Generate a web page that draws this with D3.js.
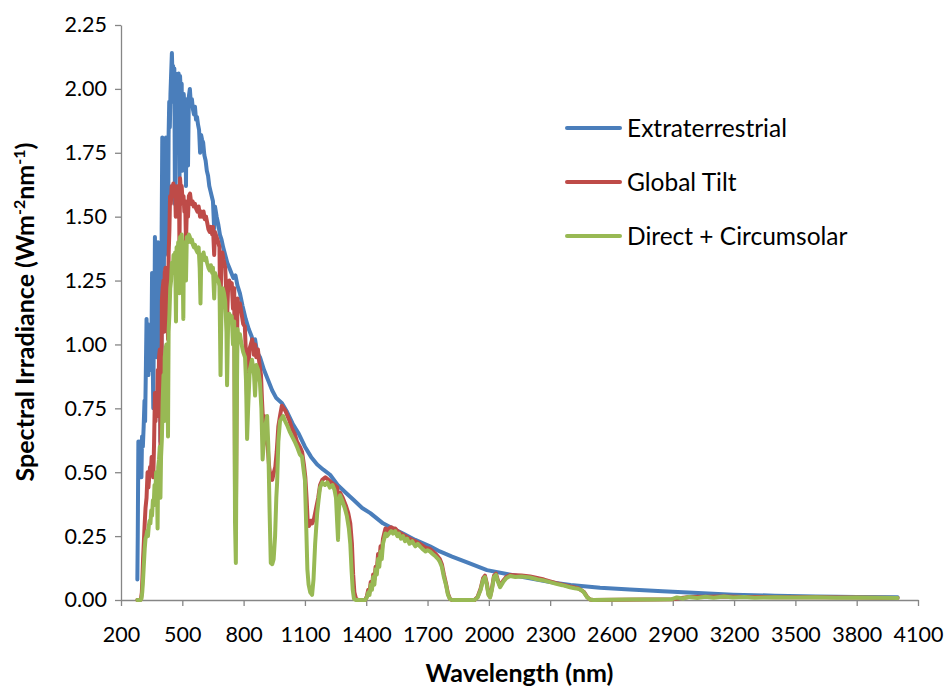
<!DOCTYPE html>
<html>
<head>
<meta charset="utf-8">
<script src="https://cdn.jsdelivr.net/npm/d3@7"></script>
<style>
  body { margin: 0; background: #fff; }
  svg text { font-family: Lato, "Open Sans", sans-serif; fill: #000; }
</style>
</head>
<body>
<svg id="chart" width="950" height="688"></svg>
<script>
// tick labels
const xTicks = [200, 500, 800, 1100, 1400, 1700, 2000, 2300, 2600, 2900, 3200, 3500, 3800, 4100];
const yTicks = [0, 0.25, 0.5, 0.75, 1, 1.25, 1.5, 1.75, 2, 2.25];

const seriesNames = ["Extraterrestrial", "Global Tilt", "Direct + Circumsolar"];

// [wavelength nm, W m-2 nm-1]
const extraterrestrial = [
  [280,0.08],[282,0.25],[285,0.62],[288,0.50],[292,0.62],[296,0.58],[300,0.48],[303,0.64],[307,0.60],[311,0.68],
  [315,0.78],[318,0.70],[322,0.92],[325,1.10],[328,0.95],[331,1.08],[334,0.88],[338,1.00],[341,0.92],[345,1.02],
  [348,0.90],[352,1.28],[355,0.96],[358,0.75],[361,1.08],[364,1.15],[366,1.42],[369,1.05],[372,1.20],[375,0.95],
  [378,1.25],[381,1.40],[384,1.02],[388,1.18],[391,1.05],[393,0.62],[395,1.00],[397,0.70],[399,1.45],[402,1.81],
  [405,1.70],[408,1.78],[410,1.30],[413,1.80],[416,1.72],[420,1.81],[424,1.68],[427,1.75],[430,1.35],[433,1.82],
  [436,1.95],[439,1.85],[442,1.98],[445,2.05],[449,2.14],[452,2.05],[455,2.09],[458,1.95],[461,2.08],[464,1.55],
  [467,2.06],[470,1.98],[474,2.04],[478,1.92],[482,2.06],[486,1.60],[489,2.05],[493,1.98],[497,2.02],[500,1.68],
  [503,1.96],[507,1.98],[511,1.92],[515,1.95],[518,1.62],[521,1.92],[525,1.96],[528,1.70],[532,1.97],[537,2.00],
  [542,1.94],[547,1.96],[552,1.92],[557,1.90],[562,1.93],[567,1.88],[572,1.89],[577,1.86],[582,1.84],[587,1.75],
  [592,1.82],[597,1.80],[602,1.79],[608,1.74],[614,1.72],[620,1.68],[626,1.66],[632,1.62],[638,1.60],[644,1.58],
  [650,1.56],[656,1.45],[660,1.54],[668,1.50],[676,1.47],[684,1.43],[692,1.41],[700,1.38],[710,1.35],[720,1.32],
  [730,1.30],[740,1.28],[750,1.26],[760,1.27],[770,1.23],[782,1.20],[795,1.15],[810,1.10],[825,1.06],[840,1.03],
  [850,0.98],[856,1.02],[866,0.97],[880,0.95],[900,0.90],[920,0.86],[940,0.82],[960,0.79],[988,0.77],[1010,0.74],
  [1040,0.69],[1070,0.65],[1100,0.60],[1130,0.56],[1160,0.53],[1190,0.51],[1223,0.49],[1260,0.45],[1300,0.42],
  [1340,0.39],[1380,0.36],[1420,0.34],[1482,0.30],[1530,0.28],[1580,0.26],[1640,0.235],[1712,0.21],[1760,0.19],
  [1820,0.17],[1900,0.145],[1991,0.117],[2100,0.10],[2200,0.085],[2300,0.07],[2400,0.059],[2544,0.048],[2690,0.041],
  [2850,0.034],[3000,0.028],[3195,0.021],[3400,0.017],[3600,0.014],[3800,0.012],[4000,0.011]
];

const globalTilt = [
  [280,0],[295,0],[298,0.005],[302,0.03],[305,0.09],[308,0.16],[312,0.23],[316,0.30],[320,0.36],[325,0.40],
  [330,0.50],[334,0.44],[338,0.48],[342,0.52],[346,0.50],[350,0.56],[354,0.53],[358,0.48],[362,0.62],[366,0.81],
  [369,0.70],[372,0.78],[376,0.72],[380,0.90],[383,0.75],[386,0.95],[390,0.98],[393,0.60],[396,0.85],[398,0.70],
  [400,1.17],[404,1.22],[408,1.25],[411,1.05],[414,1.28],[418,1.30],[422,1.26],[426,1.30],[430,1.02],[433,1.35],
  [437,1.45],[440,1.58],[444,1.55],[448,1.62],[452,1.60],[456,1.63],[460,1.58],[464,1.62],[468,1.50],[472,1.60],
  [476,1.55],[480,1.62],[484,1.60],[486,1.38],[489,1.65],[493,1.60],[497,1.62],[502,1.55],[506,1.58],[510,1.52],
  [514,1.56],[518,1.40],[522,1.52],[528,1.50],[532,1.58],[538,1.59],[544,1.55],[550,1.56],[556,1.54],[562,1.55],
  [568,1.53],[574,1.52],[580,1.54],[587,1.50],[592,1.52],[598,1.50],[604,1.52],[610,1.49],[616,1.50],[621,1.48],
  [628,1.45],[634,1.44],[640,1.46],[646,1.43],[650,1.46],[656,1.35],[660,1.44],[668,1.42],[676,1.40],[682,1.38],
  [686,1.05],[690,1.30],[696,1.36],[702,1.33],[710,1.30],[716,1.18],[719,1.10],[724,1.22],[730,1.25],[736,1.22],
  [742,1.24],[748,1.14],[754,1.22],[758,0.40],[762,0.30],[766,0.80],[770,1.18],[776,1.14],[782,1.16],[790,1.12],
  [798,1.08],[806,1.07],[812,0.95],[817,0.78],[822,0.85],[828,0.98],[835,1.00],[842,1.02],[850,0.96],[856,1.00],
  [862,0.95],[870,0.98],[878,0.92],[885,0.88],[890,0.78],[895,0.70],[900,0.72],[906,0.68],[912,0.62],[918,0.60],
  [925,0.52],[932,0.48],[940,0.47],[948,0.50],[955,0.52],[962,0.58],[970,0.68],[978,0.72],[987,0.76],[995,0.75],
  [1005,0.74],[1015,0.72],[1025,0.70],[1037,0.67],[1050,0.65],[1061,0.62],[1075,0.60],[1086,0.58],[1095,0.53],
  [1102,0.48],[1108,0.40],[1114,0.30],[1120,0.29],[1128,0.31],[1136,0.30],[1145,0.32],[1155,0.36],[1165,0.40],
  [1174,0.45],[1185,0.47],[1200,0.48],[1215,0.47],[1230,0.46],[1245,0.45],[1258,0.44],[1265,0.36],[1272,0.42],
  [1285,0.40],[1300,0.37],[1312,0.34],[1322,0.30],[1330,0.22],[1336,0.10],[1342,0.03],[1350,0.005],[1360,0],
  [1395,0],[1403,0.015],[1410,0.04],[1416,0.03],[1422,0.07],[1428,0.05],[1434,0.10],[1440,0.08],[1446,0.13],
  [1452,0.12],[1458,0.18],[1464,0.15],[1470,0.21],[1476,0.19],[1482,0.24],[1488,0.26],[1494,0.28],[1502,0.27],
  [1512,0.28],[1522,0.285],[1531,0.28],[1542,0.28],[1552,0.27],[1570,0.26],[1590,0.25],[1612,0.24],[1640,0.23],
  [1663,0.22],[1690,0.205],[1712,0.20],[1740,0.18],[1760,0.16],[1770,0.14],[1780,0.10],[1790,0.065],[1800,0.025],
  [1810,0.004],[1820,0],[1930,0],[1945,0.012],[1960,0.045],[1972,0.085],[1981,0.095],[1990,0.065],[1998,0.025],
  [2006,0.012],[2015,0.045],[2025,0.095],[2035,0.103],[2045,0.075],[2055,0.055],[2070,0.075],[2085,0.09],
  [2104,0.098],[2160,0.096],[2202,0.092],[2270,0.08],[2330,0.066],[2397,0.053],[2437,0.046],[2465,0.032],
  [2481,0.012],[2495,0.002],[2510,0],[2896,0.003],[2980,0.012],[3060,0.013],[3150,0.014],[3250,0.012],
  [3400,0.011],[3600,0.011],[3800,0.010],[4000,0.008]
];

const directCircumsolar = [
  [280,0],[296,0],[300,0.005],[304,0.03],[308,0.08],[312,0.14],[316,0.20],[320,0.24],[324,0.25],[328,0.27],
  [332,0.25],[336,0.29],[340,0.31],[344,0.30],[348,0.35],[352,0.33],[356,0.39],[360,0.37],[364,0.45],[368,0.42],
  [372,0.50],[376,0.47],[379,0.28],[382,0.52],[386,0.55],[390,0.60],[393,0.40],[396,0.56],[400,0.63],[404,0.78],
  [408,0.88],[411,0.70],[414,0.95],[418,0.98],[422,1.00],[426,0.98],[430,0.64],[433,1.05],[437,1.12],[441,1.22],
  [445,1.25],[449,1.32],[453,1.28],[457,1.35],[461,1.30],[465,1.36],[469,1.09],[472,1.38],[476,1.34],[480,1.40],
  [484,1.38],[486,1.20],[489,1.42],[493,1.40],[497,1.43],[501,1.36],[505,1.10],[508,1.40],[512,1.38],[516,1.40],
  [518,1.25],[522,1.42],[527,1.40],[532,1.43],[537,1.42],[542,1.40],[547,1.41],[552,1.39],[557,1.38],[562,1.39],
  [568,1.37],[574,1.36],[580,1.38],[585,1.30],[589,1.16],[593,1.35],[598,1.34],[604,1.36],[610,1.33],[616,1.34],
  [621,1.32],[628,1.30],[634,1.29],[640,1.31],[646,1.28],[650,1.30],[656,1.18],[660,1.28],[668,1.26],[676,1.25],
  [682,1.23],[687,0.88],[692,1.15],[698,1.22],[704,1.20],[710,1.17],[716,1.05],[719,0.84],[724,1.08],[730,1.12],
  [736,1.10],[742,1.11],[748,1.00],[754,1.09],[758,0.30],[762,0.145],[766,0.70],[770,1.06],[776,1.02],[782,1.04],
  [790,1.00],[798,0.97],[807,0.95],[812,0.85],[817,0.63],[822,0.75],[830,0.90],[841,0.94],[851,0.88],[856,0.80],
  [862,0.92],[871,0.90],[880,0.85],[887,0.75],[893,0.55],[899,0.62],[906,0.68],[915,0.72],[921,0.60],[927,0.35],
  [933,0.145],[940,0.14],[947,0.16],[954,0.25],[960,0.40],[964,0.46],[970,0.62],[978,0.70],[985,0.71],[993,0.72],
  [1003,0.70],[1015,0.68],[1025,0.66],[1037,0.64],[1050,0.62],[1061,0.60],[1075,0.57],[1086,0.56],[1095,0.50],
  [1100,0.47],[1106,0.30],[1112,0.12],[1118,0.06],[1126,0.03],[1135,0.02],[1142,0.08],[1150,0.22],[1160,0.34],
  [1168,0.40],[1174,0.44],[1185,0.46],[1198,0.45],[1210,0.46],[1222,0.44],[1235,0.45],[1245,0.43],[1252,0.40],
  [1258,0.30],[1262,0.235],[1266,0.35],[1272,0.41],[1282,0.39],[1295,0.36],[1305,0.33],[1315,0.28],[1322,0.22],
  [1328,0.12],[1334,0.04],[1340,0.005],[1350,0],[1395,0],[1403,0.01],[1410,0.03],[1416,0.02],[1422,0.06],
  [1428,0.04],[1434,0.09],[1440,0.06],[1446,0.12],[1452,0.10],[1458,0.16],[1464,0.13],[1470,0.19],[1476,0.16],
  [1482,0.22],[1488,0.24],[1494,0.26],[1502,0.25],[1512,0.26],[1522,0.27],[1531,0.26],[1542,0.27],[1552,0.25],
  [1560,0.26],[1570,0.24],[1580,0.25],[1590,0.23],[1600,0.24],[1612,0.22],[1625,0.23],[1640,0.21],[1652,0.22],
  [1663,0.21],[1675,0.20],[1690,0.19],[1700,0.195],[1712,0.19],[1725,0.18],[1740,0.17],[1752,0.16],[1760,0.15],
  [1770,0.13],[1780,0.09],[1790,0.06],[1800,0.02],[1810,0.003],[1820,0],[1930,0],[1945,0.01],[1960,0.04],
  [1972,0.08],[1981,0.09],[1990,0.06],[1998,0.02],[2006,0.01],[2015,0.04],[2025,0.09],[2035,0.098],[2045,0.07],
  [2055,0.05],[2070,0.07],[2085,0.085],[2104,0.094],[2130,0.09],[2160,0.092],[2202,0.088],[2240,0.08],
  [2270,0.076],[2300,0.07],[2330,0.063],[2360,0.058],[2397,0.05],[2420,0.046],[2437,0.044],[2450,0.04],
  [2465,0.03],[2481,0.01],[2495,0.002],[2510,0],[2600,0.001],[2700,0.002],[2800,0.002],[2896,0.003],[2920,0.01],
  [2950,0.006],[2980,0.012],[3020,0.008],[3060,0.013],[3100,0.009],[3150,0.014],[3195,0.010],[3250,0.012],
  [3300,0.009],[3400,0.011],[3500,0.010],[3600,0.011],[3700,0.009],[3800,0.010],[3900,0.009],[4000,0.008]
];

const colors = ["#4a7ebb", "#be4b48", "#98b954"];

const margin = {top: 25, right: 32, bottom: 88, left: 121};
const width = 950, height = 688;

const svg = d3.select("#chart");

const x = d3.scaleLinear()
    .domain([200, 4100])
    .range([margin.left, width - margin.right]);

const y = d3.scaleLinear()
    .domain([0, 2.25])
    .range([height - margin.bottom, margin.top]);

const line = d3.line()
    .x(d => x(d[0]))
    .y(d => y(d[1]));

const xAxis = g => g
    .attr("transform", `translate(0,${height - margin.bottom})`)
    .call(d3.axisBottom(x).tickValues(xTicks).tickFormat(d3.format("d")).tickSize(6).tickPadding(21).tickSizeOuter(0))
    .call(g => g.selectAll("text").attr("font-size", 21.5))
    .call(g => g.selectAll("line, path").attr("stroke", "#868686").attr("stroke-width", 1.3));

const yAxis = g => g
    .attr("transform", `translate(${margin.left},0)`)
    .call(d3.axisLeft(y).tickValues(yTicks).tickFormat(d3.format(".2f")).tickSize(6).tickPadding(8).tickSizeOuter(0))
    .call(g => g.selectAll("text").attr("font-size", 21.5))
    .call(g => g.selectAll("line, path").attr("stroke", "#868686").attr("stroke-width", 1.3));

svg.append("g").call(xAxis);
svg.append("g").call(yAxis);

svg.append("g")
    .selectAll("path")
    .data([extraterrestrial, globalTilt, directCircumsolar])
    .join("path")
    .attr("d", line)
    .attr("fill", "none")
    .attr("stroke", (d, i) => colors[i])
    .attr("stroke-width", 4)
    .attr("stroke-linejoin", "round")
    .attr("stroke-linecap", "round");

// legend
const legend = svg.append("g")
    .selectAll("g")
    .data(seriesNames)
    .join("g")
    .attr("transform", (d, i) => `translate(567,${128 + i * 54})`);

legend.append("line")
    .attr("x1", 0).attr("x2", 53)
    .attr("stroke", (d, i) => colors[i])
    .attr("stroke-width", 4)
    .attr("stroke-linecap", "round");

legend.append("text")
    .attr("x", 60)
    .attr("dy", "0.35em")
    .attr("font-size", 24.5)
    .text(d => d);

// axis titles
svg.append("text")
    .attr("x", (margin.left + width - margin.right) / 2)
    .attr("y", 682)
    .attr("text-anchor", "middle")
    .attr("font-size", 25)
    .attr("font-weight", "bold")
    .text("Wavelength (nm)");

const yTitle = svg.append("text")
    .attr("transform", "translate(34,312) rotate(-90)")
    .attr("text-anchor", "middle")
    .attr("font-size", 25)
    .attr("font-weight", "bold");
yTitle.append("tspan").text("Spectral Irradiance (Wm");
yTitle.append("tspan").attr("font-size", 16).attr("dy", -9).text("-2");
yTitle.append("tspan").attr("dy", 9).text("nm");
yTitle.append("tspan").attr("font-size", 16).attr("dy", -9).text("-1");
yTitle.append("tspan").attr("dy", 9).text(")");
</script>
</body>
</html>
